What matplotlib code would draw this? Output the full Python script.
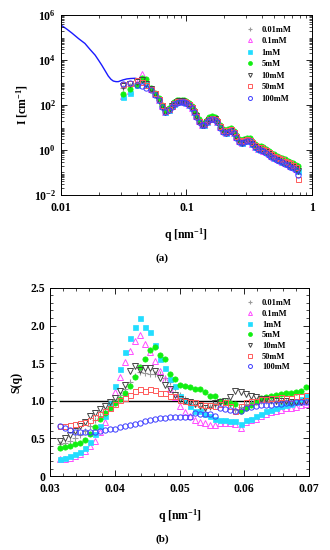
import numpy as np
import matplotlib
matplotlib.use("Agg")
import matplotlib.pyplot as plt
from matplotlib.ticker import LogLocator, FixedLocator, MultipleLocator, NullFormatter, LogFormatterMathtext, FixedFormatter

plt.rcParams['font.family'] = ['Liberation Serif', 'DejaVu Serif']
plt.rcParams['font.weight'] = 'bold'
plt.rcParams['mathtext.fontset'] = 'custom'
plt.rcParams['mathtext.rm'] = 'Liberation Serif:bold'
plt.rcParams['mathtext.bf'] = 'Liberation Serif:bold'
plt.rcParams['mathtext.it'] = 'Liberation Serif:bold:italic'
plt.rcParams['mathtext.default'] = 'bf'

labels = ['0.01mM', '0.1mM', '1mM', '5mM', '10mM', '50mM', '100mM']

# ---------------- (a) SAXS intensity ----------------
q_fit = [0.0100, 0.0111, 0.0122, 0.0138, 0.0155, 0.0170, 0.0187, 0.0200, 0.0211, 0.0225,
         0.0238, 0.0250, 0.0261, 0.0274, 0.0286, 0.0310, 0.0334, 0.0360, 0.0389, 0.0415,
         0.0445, 0.0480, 0.0512, 0.0561, 0.0600]
I_fit = [3.6e5, 2.4e5, 1.6e5, 9.0e4, 5.5e4, 3.0e4, 1.66e4, 9.5e3, 6.0e3, 3.3e3,
         1.95e3, 1.4e3, 1.17e3, 1.1e3, 1.1e3, 1.3e3, 1.45e3, 1.52e3, 1.55e3, 1.45e3,
         1.2e3, 880, 620, 280, 150]

q_top = [0.0313, 0.0355, 0.0400, 0.0440, 0.0480, 0.0520, 0.0560, 0.0600, 0.0640, 0.0680,
         0.0720, 0.0760, 0.0800, 0.0840, 0.0880, 0.0920, 0.0960, 0.1000, 0.1050, 0.1100,
         0.1150, 0.1200, 0.1260, 0.1320, 0.1380, 0.1450, 0.1520, 0.1600, 0.1680, 0.1760,
         0.1850, 0.1950, 0.2050, 0.2150, 0.2260, 0.2380, 0.2500, 0.2630, 0.2760, 0.2900,
         0.3050, 0.3200, 0.3360, 0.3530, 0.3710, 0.3900, 0.4100, 0.4310, 0.4530, 0.4760,
         0.5000, 0.5250, 0.5520, 0.5800, 0.6100, 0.6400, 0.6730, 0.7070, 0.7430, 0.7800]

I_001 = [550, 700, 1000, 1300, 900, 520, 310, 175, 90, 52,
         62, 88, 114, 135, 146, 146, 140, 125, 104, 78,
         52, 31, 19, 14, 14, 18, 23, 26, 23, 18,
         10.5, 7.0, 5.9, 7.0, 7.5, 5.9, 3.9, 2.5, 2.2, 2.5,
         2.8, 2.6, 2.0, 1.45, 1.2, 1.1, 1.0, 0.82, 0.66, 0.56,
         0.47, 0.41, 0.36, 0.31, 0.28, 0.24, 0.21, 0.18, 0.15, 0.13]
I_01 = [260, 420, 1000, 2400, 1100, 500, 305, 172, 88, 51,
        61, 87, 112, 133, 144, 144, 139, 124, 103, 77,
        51, 31, 19, 13.5, 13.5, 17.5, 23, 25, 23, 17.5,
        10.2, 6.8, 5.7, 6.8, 7.3, 5.8, 3.8, 2.4, 2.1, 2.4,
        2.7, 2.5, 1.9, 1.4, 1.15, 1.05, 0.95, 0.8, 0.64, 0.54,
        0.45, 0.4, 0.35, 0.3, 0.27, 0.23, 0.2, 0.17, 0.14, 0.12]
I_1 = [230, 350, 780, 1300, 900, 500, 300, 172, 88, 51,
       61, 87, 113, 134, 145, 145, 139, 124, 103, 77,
       51, 31, 19, 13.5, 13.5, 17.5, 23, 25, 23, 17.5,
       10.3, 6.9, 5.8, 6.9, 7.4, 5.8, 3.8, 2.4, 2.1, 2.4,
       2.7, 2.5, 1.9, 1.4, 1.15, 1.05, 0.96, 0.8, 0.65, 0.55,
       0.46, 0.4, 0.35, 0.3, 0.27, 0.23, 0.2, 0.17, 0.14, 0.12]
I_5 = [300, 500, 800, 1600, 1500, 600, 360, 205, 105, 62,
       74, 105, 137, 162, 176, 176, 169, 151, 126, 95,
       63, 38, 23, 16.5, 16.5, 21.5, 28, 31, 28, 21.5,
       12.8, 8.5, 7.1, 8.5, 9.2, 7.2, 4.8, 3.0, 2.7, 3.1,
       3.5, 3.3, 2.5, 1.85, 1.55, 1.45, 1.32, 1.1, 0.9, 0.76,
       0.64, 0.57, 0.5, 0.44, 0.39, 0.34, 0.3, 0.26, 0.22, 0.19]
I_10 = [700, 850, 1100, 1300, 850, 510, 305, 172, 87, 51,
        61, 87, 112, 133, 144, 144, 138, 123, 102, 77,
        51, 31, 18.5, 13.5, 13.5, 17.5, 22.5, 25, 23, 17.5,
        10.2, 6.8, 5.7, 6.8, 7.3, 5.7, 3.8, 2.4, 2.1, 2.4,
        2.7, 2.5, 1.9, 1.4, 1.15, 1.05, 0.95, 0.8, 0.64, 0.54,
        0.45, 0.4, 0.35, 0.3, 0.27, 0.23, 0.2, 0.17, 0.14, 0.12]
I_50 = [850, 1000, 1300, 1100, 800, 520, 330, 188, 96, 56,
        67, 95, 123, 146, 158, 158, 152, 136, 113, 85,
        57, 34, 20.5, 15, 15, 19.5, 25, 27.5, 25, 19.5,
        11.5, 7.6, 6.4, 7.6, 8.2, 6.4, 4.3, 2.7, 2.4, 2.8,
        3.1, 2.9, 2.2, 1.65, 1.4, 1.3, 1.15, 0.97, 0.79, 0.67,
        0.56, 0.5, 0.44, 0.38, 0.34, 0.3, 0.26, 0.22, 0.17, 0.05]
I_100 = [900, 950, 800, 700, 600, 480, 290, 165, 84, 49,
         59, 84, 108, 128, 138, 138, 133, 118, 98, 74,
         49, 30, 18, 13, 13, 17, 22, 24, 22, 17,
         10, 6.5, 5.5, 6.5, 7.0, 5.5, 3.6, 2.3, 2.0, 2.3,
         2.6, 2.4, 1.8, 1.3, 1.1, 1.0, 0.9, 0.75, 0.6, 0.5,
         0.42, 0.37, 0.32, 0.28, 0.25, 0.21, 0.18, 0.16, 0.13, 0.08]

# ---------------- (b) structure factor ----------------
q_s = np.linspace(0.0315, 0.0695, 50)
S_001 = [0.42, 0.44, 0.47, 0.50, 0.54, 0.60, 0.67, 0.74, 0.80, 0.86,
         0.93, 0.99, 1.08, 1.16, 1.25, 1.33, 1.38, 1.37, 1.35, 1.36,
         1.35, 1.30, 1.25, 1.17, 1.08, 1.02, 0.99, 0.96, 0.93, 0.91,
         0.92, 0.95, 0.97, 0.98, 0.96, 0.88, 0.92, 0.96, 0.98, 1.00,
         1.00, 1.00, 1.00, 1.00, 1.00, 1.00, 0.99, 0.99, 1.00, 1.00]
S_01 = [0.22, 0.23, 0.24, 0.26, 0.29, 0.33, 0.40, 0.47, 0.58, 0.72,
        0.90, 1.12, 1.31, 1.51, 1.66, 1.80, 1.87, 1.75, 1.65, 1.53,
        1.40, 1.29, 1.15, 1.05, 0.93, 0.85, 0.80, 0.75, 0.72, 0.70,
        0.68, 0.68, 0.70, 0.70, 0.70, 0.69, 0.64, 0.72, 0.74, 0.76,
        0.80, 0.83, 0.85, 0.87, 0.88, 0.90, 0.91, 0.92, 0.94, 0.96]
S_1 = [0.23, 0.24, 0.26, 0.29, 0.32, 0.37, 0.45, 0.56, 0.66, 0.80,
       0.97, 1.20, 1.42, 1.65, 1.83, 1.98, 2.10, 1.98, 1.91, 1.74,
       1.55, 1.44, 1.29, 1.19, 1.07, 1.00, 0.93, 0.87, 0.86, 0.82,
       0.80, 0.76, 0.74, 0.74, 0.73, 0.73, 0.69, 0.74, 0.76, 0.80,
       0.82, 0.86, 0.88, 0.91, 0.93, 0.95, 0.96, 0.98, 1.02, 1.06]
S_5 = [0.37, 0.39, 0.40, 0.42, 0.44, 0.48, 0.56, 0.65, 0.76, 0.84,
       0.90, 0.97, 1.03, 1.11, 1.20, 1.31, 1.45, 1.55, 1.68, 1.71,
       1.61, 1.55, 1.36, 1.29, 1.21, 1.20, 1.18, 1.16, 1.15, 1.12,
       1.06, 1.06, 1.00, 0.98, 0.97, 0.96, 0.86, 0.90, 0.95, 0.98,
       1.04, 1.05, 1.06, 1.08, 1.09, 1.10, 1.10, 1.12, 1.13, 1.18]
S_10 = [0.47, 0.50, 0.55, 0.60, 0.66, 0.72, 0.80, 0.84, 0.89, 0.93,
        0.98, 1.04, 1.13, 1.21, 1.40, 1.46, 1.41, 1.43, 1.43, 1.40,
        1.30, 1.21, 1.15, 1.08, 1.03, 1.00, 0.98, 0.96, 0.93, 0.91,
        0.93, 0.97, 0.99, 1.00, 1.05, 1.13, 1.12, 1.09, 1.07, 1.05,
        1.03, 1.02, 1.01, 1.00, 1.00, 1.00, 0.99, 0.98, 0.99, 1.00]
S_50 = [0.67, 0.67, 0.68, 0.69, 0.70, 0.72, 0.74, 0.78, 0.82, 0.86,
        0.91, 0.96, 1.01, 1.04, 1.08, 1.13, 1.15, 1.13, 1.15, 1.14,
        1.11, 1.10, 1.06, 1.06, 1.01, 1.00, 0.99, 0.98, 0.96, 0.95,
        0.95, 0.93, 0.96, 0.98, 0.93, 0.87, 0.93, 0.98, 1.00, 1.00,
        1.02, 1.03, 1.04, 1.04, 1.05, 1.04, 1.04, 1.06, 1.06, 1.08]
S_100 = [0.66, 0.64, 0.61, 0.59, 0.58, 0.58, 0.58, 0.59, 0.60, 0.61,
         0.62, 0.63, 0.65, 0.66, 0.68, 0.69, 0.70, 0.73, 0.74, 0.76,
         0.77, 0.77, 0.78, 0.78, 0.78, 0.79, 0.79, 0.84, 0.83, 0.82,
         0.82, 0.80, 0.90, 0.89, 0.88, 0.87, 0.86, 0.90, 0.92, 0.93,
         0.94, 0.95, 0.95, 0.96, 0.96, 0.97, 0.97, 0.98, 0.98, 0.99]

styles = [
    dict(marker='+', color='#9a9a9a', mfc='none', ms=4.2, mew=0.8),
    dict(marker='^', color='#ff4dff', mfc='none', ms=3.8, mew=0.7),
    dict(marker='s', color='#22ddff', mfc='#22ddff', ms=3.6, mew=0.5),
    dict(marker='o', color='#11ee11', mfc='#11ee11', ms=3.8, mew=0.5),
    dict(marker='v', color='#444444', mfc='none', ms=3.8, mew=0.7),
    dict(marker='s', color='#ff5a5a', mfc='none', ms=3.6, mew=0.7),
    dict(marker='o', color='#3c3cff', mfc='none', ms=3.8, mew=0.7),
]

fig = plt.figure(figsize=(3.3, 5.5), dpi=100)

# ----- top panel -----
ax1 = fig.add_axes([0.185, 0.6455, 0.76, 0.327])
ax1.set_xscale('log')
ax1.set_yscale('log')
ax1.plot(q_fit, I_fit, color='#1a1aff', lw=1.0, zorder=1)
I_sets = [I_001, I_01, I_1, I_5, I_10, I_50, I_100]
for lab, st, Iv in zip(labels, styles, I_sets):
    ax1.plot(q_top, Iv, ls='none', label=lab, zorder=2, **st)
ax1.set_xlim(0.01, 1)
ax1.set_ylim(1e-2, 1e6)
ax1.yaxis.set_major_locator(FixedLocator([1e-2, 1e0, 1e2, 1e4, 1e6]))
ax1.yaxis.set_major_formatter(LogFormatterMathtext())
ax1.yaxis.set_minor_locator(LogLocator(base=10, subs=np.arange(1, 10), numticks=30))
ax1.yaxis.set_minor_formatter(NullFormatter())
ax1.xaxis.set_major_locator(FixedLocator([0.01, 0.1, 1]))
ax1.xaxis.set_major_formatter(FixedFormatter(['0.01', '0.1', '1']))
ax1.xaxis.set_minor_locator(LogLocator(base=10, subs=np.arange(2, 10), numticks=30))
ax1.xaxis.set_minor_formatter(NullFormatter())
ax1.tick_params(which='both', direction='in', top=True, right=True, labelsize=8.5)
ax1.tick_params(which='major', length=4, width=0.6)
ax1.tick_params(which='minor', length=2, width=0.5)
ax1.tick_params(axis='x', pad=5)
ax1.set_xlabel('q [nm$^{-1}$]', fontsize=8.5, fontweight='bold', labelpad=9)
ax1.set_ylabel('I [cm$^{-1}$]', fontsize=8.5, fontweight='bold', labelpad=3)
leg1 = ax1.legend(loc='upper left', bbox_to_anchor=(0.74, 0.94), frameon=False,
                  fontsize=6, handlelength=0.8, handletextpad=1.0, labelspacing=0.42,
                  borderaxespad=0, borderpad=0, markerscale=0.75)
for sp in ax1.spines.values():
    sp.set_linewidth(0.7)
fig.text(0.492, 1 - 258 / 550, '(a)', ha='center', va='center', fontsize=8, fontweight='bold')

# ----- bottom panel -----
ax2 = fig.add_axes([0.1515, 0.1345, 0.785, 0.342])
ax2.plot([0.0315, 0.07], [1.0, 1.0], color='black', lw=1.0, zorder=1)
S_sets = [S_001, S_01, S_1, S_5, S_10, S_50, S_100]
for lab, st, Sv in zip(labels, styles, S_sets):
    ax2.plot(q_s, Sv, ls='none', label=lab, zorder=2, **st)
ax2.set_xlim(0.03, 0.07)
ax2.set_ylim(0, 2.5)
ax2.xaxis.set_major_locator(FixedLocator([0.03, 0.04, 0.05, 0.06, 0.07]))
ax2.xaxis.set_major_formatter(FixedFormatter(['0.03', '0.04', '0.05', '0.06', '0.07']))
ax2.xaxis.set_minor_locator(MultipleLocator(0.002))
ax2.yaxis.set_major_locator(FixedLocator([0, 0.5, 1.0, 1.5, 2.0, 2.5]))
ax2.yaxis.set_major_formatter(FixedFormatter(['0', '0.5', '1.0', '1.5', '2.0', '2.5']))
ax2.yaxis.set_minor_locator(MultipleLocator(0.1))
ax2.tick_params(which='both', direction='in', top=True, right=True, labelsize=8.5)
ax2.tick_params(which='major', length=4, width=0.6)
ax2.tick_params(which='minor', length=2, width=0.5)
ax2.tick_params(axis='x', pad=5)
ax2.set_xlabel('q [nm$^{-1}$]', fontsize=8.5, fontweight='bold', labelpad=9)
ax2.set_ylabel('S(q)', fontsize=8.5, fontweight='bold', labelpad=6)
leg2 = ax2.legend(loc='upper left', bbox_to_anchor=(0.76, 0.94), frameon=False,
                  fontsize=6, handlelength=0.8, handletextpad=1.0, labelspacing=0.32,
                  borderaxespad=0, borderpad=0, markerscale=0.75)
for sp in ax2.spines.values():
    sp.set_linewidth(0.7)
fig.text(0.492, 1 - 539 / 550, '(b)', ha='center', va='center', fontsize=8, fontweight='bold')

fig.savefig('out.png', dpi=100)
